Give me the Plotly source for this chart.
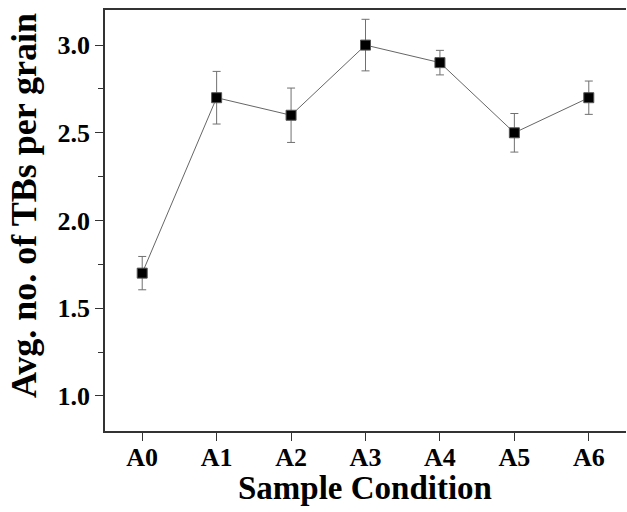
import plotly.graph_objects as go

categories = ["A0", "A1", "A2", "A3", "A4", "A5", "A6"]
avg_tbs = [1.70, 2.70, 2.60, 3.00, 2.90, 2.50, 2.70]
err = [0.095, 0.15, 0.155, 0.147, 0.07, 0.11, 0.095]
y_ticks = [1.0, 1.5, 2.0, 2.5, 3.0]
y_tick_text = ["1.0", "1.5", "2.0", "2.5", "3.0"]
x_title = "Sample Condition"
y_title = "Avg. no. of TBs per grain"

FONT = "Liberation Serif"
W, H = 627, 512
L, R, T, B = 105, 1, 10, 81
PW, PH = W - L - R, H - T - B

fig = go.Figure()
fig.add_trace(go.Scatter(
    x=categories, y=avg_tbs,
    mode="lines+markers",
    line=dict(color="#666666", width=1),
    marker=dict(symbol="square", size=10, color="black",
                line=dict(color="#555555", width=1)),
    error_y=dict(type="data", array=err, visible=True,
                 color="#707070", thickness=1, width=4),
    showlegend=False,
))

axis_common = dict(
    showline=True, linecolor="#333333", linewidth=1.5,
    ticks="outside", ticklen=8, tickwidth=1.2, tickcolor="#333333",
    showgrid=False, zeroline=False, automargin=False,
    tickfont=dict(family=FONT, size=26, color="black"),
)

fig.update_xaxes(
    type="category", range=[-0.5, 6.5], mirror=True,
    tickprefix="<b>", ticksuffix="</b>",
    ticklabelstandoff=-6,
    **axis_common,
)
fig.update_yaxes(
    range=[0.8, 3.2], mirror=False,
    tickvals=y_ticks, ticktext=["<b>" + t + "</b>" for t in y_tick_text],
    minor=dict(ticks="outside", ticklen=5, dtick=0.25, tick0=0,
               tickcolor="#333333", tickwidth=1),
    **axis_common,
)

fig.add_annotation(
    text="<b>" + x_title + "</b>", showarrow=False,
    xref="paper", yref="paper",
    x=(365 - L) / PW, y=(H - B - 488) / PH,
    xanchor="center", yanchor="middle",
    font=dict(family=FONT, size=33, color="black"),
)
fig.add_annotation(
    text="<b>" + y_title + "</b>", showarrow=False, textangle=-90,
    xref="paper", yref="paper",
    x=(24 - L) / PW, y=(H - B - 206) / PH,
    xanchor="center", yanchor="middle",
    font=dict(family=FONT, size=36, color="black"),
)

fig.update_layout(
    width=W, height=H,
    margin=dict(l=L, r=R, t=T, b=B),
    paper_bgcolor="white", plot_bgcolor="white",
)

fig.write_html("out.html",
               config={"displayModeBar": False},
               post_script="document.body.style.margin='0';document.body.style.overflow='hidden';")
